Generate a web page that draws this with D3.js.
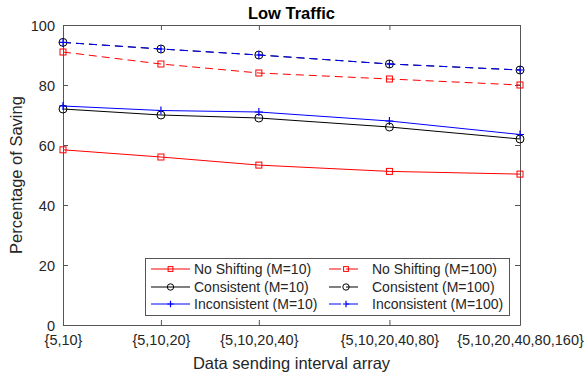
<!DOCTYPE html>
<html><head><meta charset="utf-8">
<script src="https://cdn.jsdelivr.net/npm/d3@7"></script>
<style>body{margin:0;background:#fff}svg{display:block;font-family:"Liberation Sans",Arial,sans-serif}</style>
</head><body><div id="chart"></div>
<script>
const categories = ["{5,10}", "{5,10,20}", "{5,10,20,40}", "{5,10,20,40,80}", "{5,10,20,40,80,160}"];
const xPositions = [0, 3, 6, 10, 14];
const yTicks = [0, 20, 40, 60, 80, 100];
const noShift10 = [58.4, 56, 53.3, 51.2, 50.3];
const consistent10 = [72, 70, 69, 66, 62];
const inconsistent10 = [73, 71.5, 71, 68, 63.5];
const noShift100 = [91, 87, 84, 82, 80];
const consistent100 = [94.2, 92, 90, 87, 85];
const inconsistent100 = [94.2, 92, 90, 87, 85];
const seriesNames = ["No Shifting (M=10)", "Consistent (M=10)", "Inconsistent (M=10)", "No Shifting (M=100)", "Consistent (M=100)", "Inconsistent (M=100)"];

const series = [
  {name: seriesNames[0], values: noShift10, color: "#ff0000", dash: null, marker: "square"},
  {name: seriesNames[1], values: consistent10, color: "#000000", dash: null, marker: "circle"},
  {name: seriesNames[2], values: inconsistent10, color: "#0000ff", dash: null, marker: "plus"},
  {name: seriesNames[3], values: noShift100, color: "#ff0000", dash: "8,5", marker: "square"},
  {name: seriesNames[4], values: consistent100, color: "#000000", dash: "8,5", marker: "circle"},
  {name: seriesNames[5], values: inconsistent100, color: "#0000ff", dash: "8,5", marker: "plus"}
];

const W = 588, H = 374;
const m = {left: 63, right: 68, top: 25, bottom: 49};
const svg = d3.select("#chart").append("svg").attr("width", W).attr("height", H);
const x = d3.scaleLinear().domain([0, 14]).range([m.left, W - m.right]);
const y = d3.scaleLinear().domain([0, 100]).range([H - m.bottom, m.top]);
const axisColor = "#555";
const textColor = "#262626";

// axes
const xAxis = svg.append("g").attr("transform", `translate(0,${y(0)})`)
  .call(d3.axisBottom(x).tickValues(xPositions).tickFormat((d, i) => categories[i]).tickSizeInner(-5).tickSizeOuter(0).tickPadding(10));
const xTop = svg.append("g").attr("transform", `translate(0,${y(100)})`)
  .call(d3.axisTop(x).tickValues(xPositions).tickFormat("").tickSizeInner(-5).tickSizeOuter(0));
const yAxis = svg.append("g").attr("transform", `translate(${x(0)},0)`)
  .call(d3.axisLeft(y).tickValues(yTicks).tickSizeInner(-5).tickSizeOuter(0).tickPadding(8));
const yRight = svg.append("g").attr("transform", `translate(${x(14)},0)`)
  .call(d3.axisRight(y).tickValues(yTicks).tickFormat("").tickSizeInner(-5).tickSizeOuter(0));
[xAxis, xTop, yAxis, yRight].forEach(g => {
  g.selectAll("path,line").attr("stroke", axisColor).attr("stroke-width", 1);
  g.selectAll("text").attr("fill", textColor).style("font-size", "14.5px").style("font-family", '"Liberation Sans",Arial,sans-serif');
});
yAxis.selectAll(".tick text").attr("dy", "0.35em");

const line = d3.line().x((d, i) => x(xPositions[i])).y(d => y(d));

function drawMarker(g, type, cx, cy, color, sc) {
  sc = sc || 1;
  if (type === "square") {
    g.append("rect").attr("x", cx - 3 * sc).attr("y", cy - 3 * sc).attr("width", 6 * sc).attr("height", 6 * sc)
      .attr("fill", "none").attr("stroke", color).attr("stroke-width", 1);
  } else if (type === "circle") {
    g.append("circle").attr("cx", cx).attr("cy", cy).attr("r", 4 * sc)
      .attr("fill", "none").attr("stroke", color).attr("stroke-width", 1);
  } else {
    g.append("path").attr("d", `M${cx - 4 * sc},${cy}H${cx + 4 * sc}M${cx},${cy - 4 * sc}V${cy + 4 * sc}`)
      .attr("stroke", color).attr("stroke-width", 1.2).attr("fill", "none");
  }
}

series.forEach(s => {
  const g = svg.append("g");
  g.append("path").datum(s.values).attr("d", line).attr("fill", "none")
    .attr("stroke", s.color).attr("stroke-width", 1).attr("stroke-dasharray", s.dash);
  s.values.forEach((v, i) => drawMarker(g, s.marker, x(xPositions[i]), y(v), s.color));
});

// title and labels
svg.append("text").attr("x", (x(0) + x(14)) / 2).attr("y", 19).attr("text-anchor", "middle")
  .style("font-size", "16.5px").style("font-weight", "bold").attr("fill", "#000").text("Low Traffic");
svg.append("text").attr("x", (x(0) + x(14)) / 2).attr("y", 369).attr("text-anchor", "middle")
  .style("font-size", "16.5px").attr("fill", textColor).text("Data sending interval array");
svg.append("text").attr("transform", `translate(22,${(y(0) + y(100)) / 2}) rotate(-90)`).attr("text-anchor", "middle")
  .style("font-size", "16.5px").attr("fill", textColor).text("Percentage of Saving");

// legend
const lg = svg.append("g");
lg.append("rect").attr("x", 145.5).attr("y", 258.5).attr("width", 364).attr("height", 57)
  .attr("fill", "#fff").attr("stroke", axisColor).attr("stroke-width", 1);
const rowsY = [269, 287, 304];
series.forEach((s, i) => {
  const col = Math.floor(i / 3), row = i % 3;
  const x0 = col === 0 ? 151 : 329, x1 = col === 0 ? 190 : 363;
  const cy = rowsY[row];
  lg.append("line").attr("x1", x0).attr("x2", x1).attr("y1", cy).attr("y2", cy)
    .attr("stroke", s.color).attr("stroke-width", 1).attr("stroke-dasharray", s.dash ? "12,5" : null);
  drawMarker(lg, s.marker, (x0 + x1) / 2, cy, s.color, 0.8);
  lg.append("text").attr("x", col === 0 ? 194 : 372).attr("y", cy + 5)
    .style("font-size", "14px").attr("fill", textColor).text(s.name);
});
</script></body></html>
